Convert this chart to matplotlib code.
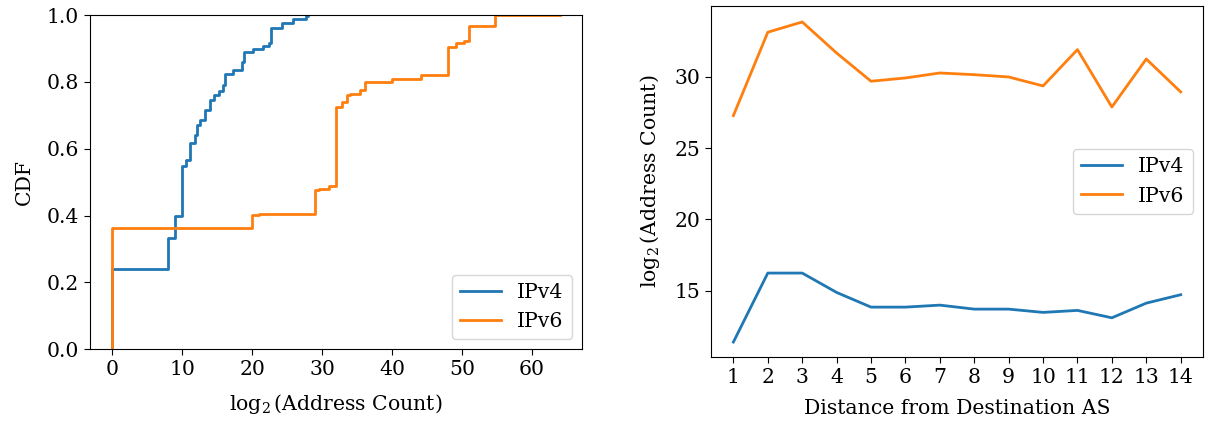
import numpy as np
import matplotlib
matplotlib.use("Agg")
import matplotlib.pyplot as plt

# CDF step points (x = log2 address count, y = CDF)
v4_x = [0, 0, 8, 9, 10, 10.5, 11.05, 11.1, 11.8, 12.1, 12.5, 13.2, 13.9, 14.6,
        15.3, 15.9, 16.1, 17.2, 18.6, 18.8, 20.1, 21.5, 22.4, 22.7, 24.3, 25.8,
        27.7, 28]
v4_y = [0, 0.239, 0.333, 0.398, 0.549, 0.566, 0.576, 0.616, 0.641, 0.67, 0.685,
        0.715, 0.745, 0.76, 0.774, 0.79, 0.823, 0.835, 0.86, 0.888, 0.897, 0.907,
        0.915, 0.96, 0.975, 0.987, 0.997, 1.0]

v6_x = [0, 0, 20, 21, 29, 29.6, 31, 32, 32.9, 33.6, 34, 35.5, 36.2, 40, 44.1,
        48, 49.1, 50.3, 51, 54.8, 64]
v6_y = [0, 0.364, 0.401, 0.405, 0.476, 0.48, 0.49, 0.725, 0.74, 0.76, 0.765,
        0.777, 0.80, 0.808, 0.82, 0.905, 0.915, 0.922, 0.967, 1.0, 1.0]

# mean log2 address count by distance from destination AS
distance = list(range(1, 15))
v4_mean = [11.4, 16.24, 16.24, 14.88, 13.85, 13.85, 13.99, 13.71, 13.71,
           13.48, 13.62, 13.10, 14.13, 14.72]
v6_mean = [27.29, 33.14, 33.86, 31.68, 29.70, 29.93, 30.28, 30.16, 30.0,
           29.37, 31.92, 27.89, 31.26, 28.95]

plt.rcParams['font.family'] = ['DejaVu Serif']
plt.rcParams['mathtext.fontset'] = 'dejavuserif'
plt.rcParams['font.size'] = 14.7
plt.rcParams['lines.linewidth'] = 2.0
plt.rcParams['xtick.major.size'] = 4.3
plt.rcParams['ytick.major.size'] = 4.3
plt.rcParams['axes.labelpad'] = 9

fig = plt.figure(figsize=(12.08, 4.25), dpi=100)

ax1 = fig.add_axes([0.0745, 0.178, 0.4073, 0.7867])
ax1.step(v4_x, v4_y, where='post', label='IPv4')
ax1.step(v6_x, v6_y, where='post', label='IPv6')
ax1.set_ylim(0, 1)
ax1.set_xlabel(r'$\log_2$(Address Count)')
ax1.set_ylabel('CDF')
ax1.legend(loc='lower right')

ax2 = fig.add_axes([0.5886, 0.16, 0.4073, 0.8259])
ax2.plot(distance, v4_mean, label='IPv4')
ax2.plot(distance, v6_mean, label='IPv6')
ax2.set_xticks(distance)
ax2.set_ylim(10.35, 34.98)
ax2.set_xlabel('Distance from Destination AS')
ax2.set_ylabel(r'$\log_2$(Address Count)')
ax2.legend(loc='center right')

fig.savefig('out.png', dpi=100)
